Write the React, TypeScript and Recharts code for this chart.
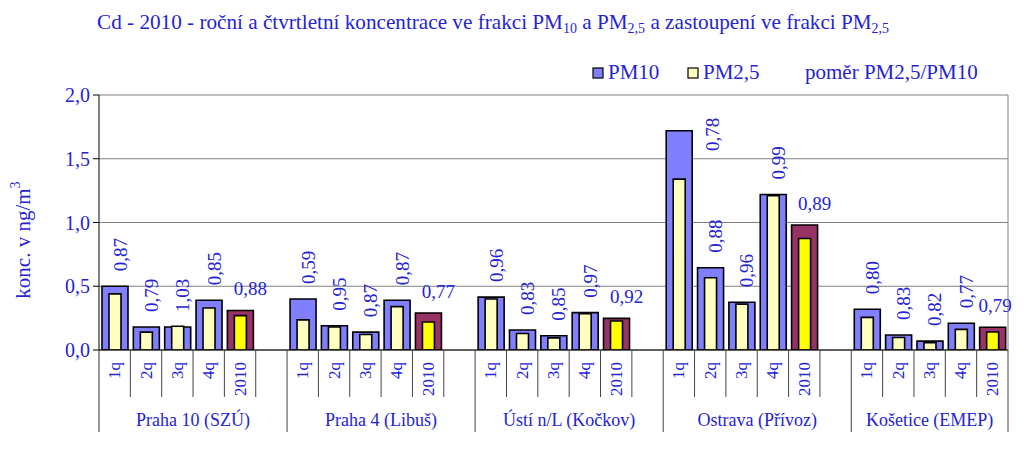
import React from 'react';
import { BarChart, Bar, XAxis, YAxis, CartesianGrid, Cell, LabelList } from 'recharts';

const stations = ['Praha 10 (SZÚ)', 'Praha 4 (Libuš)', 'Ústí n/L (Kočkov)', 'Ostrava (Přívoz)', 'Košetice (EMEP)'];
const periods = ['1q', '2q', '3q', '4q', '2010'];
const pm10 = [
  [0.5, 0.18, 0.18, 0.39, 0.31],
  [0.4, 0.19, 0.14, 0.39, 0.29],
  [0.415, 0.157, 0.112, 0.293, 0.248],
  [1.72, 0.645, 0.375, 1.22, 0.98],
  [0.32, 0.118, 0.07, 0.21, 0.178],
];
const pm25 = [
  [0.44, 0.14, 0.186, 0.33, 0.27],
  [0.236, 0.18, 0.122, 0.34, 0.22],
  [0.4, 0.13, 0.095, 0.284, 0.228],
  [1.34, 0.567, 0.36, 1.21, 0.875],
  [0.256, 0.098, 0.057, 0.162, 0.141],
];
const ratios = [
  [0.87, 0.79, 1.03, 0.85, 0.88],
  [0.59, 0.95, 0.87, 0.87, 0.77],
  [0.96, 0.83, 0.85, 0.97, 0.92],
  [0.78, 0.88, 0.96, 0.99, 0.89],
  [0.8, 0.83, 0.82, 0.77, 0.79],
];
const yTicks = [0, 0.5, 1, 1.5, 2];

type Row = {
  key: string; station: number; period: string; pm10: number | null; pm25: number | null;
  ratio: number | null; annual: boolean; blank: boolean; slots: number;
};
const rows: Row[] = [];
stations.forEach((_, s) => {
  const slots = s < stations.length - 1 ? 6 : 5;
  periods.forEach((p, i) => {
    rows.push({ key: `${s}-${i}`, station: s, period: p, pm10: pm10[s][i], pm25: pm25[s][i], ratio: ratios[s][i], annual: p === '2010', blank: false, slots });
  });
  if (s < stations.length - 1) {
    rows.push({ key: `${s}-b`, station: s, period: '', pm10: null, pm25: null, ratio: null, annual: false, blank: true, slots });
  }
});
const rowByKey: Record<string, Row> = {};
rows.forEach((r) => (rowByKey[r.key] = r));

const W = 1008;
const H = 450;
const PLOT_LEFT = 91;
const PLOT_RIGHT = 1000;
const PLOT_TOP = 87;
const PLOT_BOTTOM = 342;
const XAXIS_H = 100;
const YAXIS_W = 60;
const SLOT = (PLOT_RIGHT - PLOT_LEFT) / rows.length;

const BLUE = '#2424D4';
const FONT = '"Liberation Serif", "DejaVu Serif", serif';
const C_PM10 = '#8080FF';
const C_PM25 = '#FFFFC0';
const C_PM10_Y = '#993366';
const C_PM25_Y = '#FFFF00';

const fmt = (v: number, d: number) => v.toFixed(d).replace('.', ',');

const CatTick = (props: any) => {
  const { x, y } = props;
  const index = props.index ?? props.payload?.index ?? 0;
  const r = rows[index];
  if (!r) return null;
  const left = x - SLOT / 2;
  const right = x + SLOT / 2;
  const isEnd = r.blank || (r.station === stations.length - 1 && r.period === '2010');
  const isLast = index === rows.length - 1;
  return (
    <g>
      {index === 0 && <line x1={left} x2={left} y1={y} y2={y + 82} stroke="#333" strokeWidth={1} />}
      {isLast && <line x1={right} x2={right} y1={PLOT_TOP} y2={y} stroke="#808080" strokeWidth={1} />}
      <line x1={right} x2={right} y1={y} y2={y + (isEnd ? 82 : 47)} stroke="#444" strokeWidth={1} />
      {r.period && (
        <text
          x={x}
          y={y + 12}
          transform={`rotate(-90 ${x} ${y + 12})`}
          textAnchor="end"
          dominantBaseline="central"
          fill={BLUE}
          fontSize={17}
          fontFamily={FONT}
        >
          {r.period}
        </text>
      )}
      {r.period === '1q' && (
        <text
          x={left + (r.slots * SLOT) / 2}
          y={y + 70}
          textAnchor="middle"
          dominantBaseline="central"
          fill={BLUE}
          fontSize={18}
          fontFamily={FONT}
        >
          {stations[r.station]}
        </text>
      )}
    </g>
  );
};

const RatioLabel = (props: any) => {
  const { x, y, width, value } = props;
  const r = rowByKey[value];
  if (!r || r.ratio == null) return null;
  const cx = x + width / 2;
  const txt = fmt(r.ratio, 2);
  if (r.annual) {
    const lx = Math.min(cx + 10, PLOT_RIGHT + 4 - 17);
    return (
      <text x={lx} y={y - 15} textAnchor="middle" fill={BLUE} fontSize={19} fontFamily={FONT}>
        {txt}
      </text>
    );
  }
  let lx = cx + 5;
  let bottom = y - 15;
  if (bottom - 36 < PLOT_TOP) {
    lx = cx + SLOT + 2;
    bottom = PLOT_TOP + 22 + 34;
  }
  return (
    <text
      x={lx}
      y={bottom}
      transform={`rotate(-90 ${lx} ${bottom})`}
      textAnchor="start"
      dominantBaseline="central"
      fill={BLUE}
      fontSize={19}
      fontFamily={FONT}
    >
      {txt}
    </text>
  );
};

export default function App() {
  return (
    <div style={{ position: 'relative', width: W, height: H }}>
      <BarChart
        width={W}
        height={H}
        data={rows}
        style={{ overflow: 'visible' }}
        margin={{ top: PLOT_TOP, right: W - PLOT_RIGHT, left: PLOT_LEFT - YAXIS_W, bottom: H - PLOT_BOTTOM - XAXIS_H }}
      >
        <CartesianGrid vertical={false} stroke="#808080" strokeWidth={1} />
        <XAxis
          xAxisId="a"
          dataKey="key"
          type="category"
          interval={0}
          height={XAXIS_H}
          tickSize={0}
          tickMargin={0}
          tickLine={false}
          axisLine={{ stroke: '#000', strokeWidth: 1 }}
          tick={<CatTick />}
        />
        <XAxis xAxisId="b" dataKey="key" type="category" hide />
        <YAxis
          domain={[0, 2]}
          ticks={yTicks}
          width={YAXIS_W}
          tickFormatter={(v: number) => fmt(v, 1)}
          tick={{ fill: BLUE, fontSize: 20, fontFamily: FONT }}
          tickLine={{ stroke: '#000' }}
          tickSize={6}
          tickMargin={3}
          axisLine={{ stroke: '#000', strokeWidth: 1 }}
          allowDataOverflow
        />
        <Bar xAxisId="a" dataKey="pm10" barSize={26} stroke="#000" strokeWidth={1.6} isAnimationActive={false}>
          {rows.map((r) => (
            <Cell key={r.key} fill={r.annual ? C_PM10_Y : C_PM10} />
          ))}
          <LabelList dataKey="key" content={<RatioLabel />} />
        </Bar>
        <Bar xAxisId="b" dataKey="pm25" barSize={12} stroke="#000" strokeWidth={1.6} isAnimationActive={false}>
          {rows.map((r) => (
            <Cell key={r.key} fill={r.annual ? C_PM25_Y : C_PM25} />
          ))}
        </Bar>
      </BarChart>
      <svg
        width={W}
        height={H}
        style={{ position: 'absolute', left: 0, top: 0, pointerEvents: 'none', overflow: 'visible' }}
      >
        <text x={89} y={21} fill={BLUE} fontSize={21.2} fontFamily={FONT}>
          Cd - 2010 - roční a čtvrtletní koncentrace ve frakci PM
          <tspan fontSize={14} dy={4}>10</tspan>
          <tspan dy={-4}> a PM</tspan>
          <tspan fontSize={14} dy={4}>2,5</tspan>
          <tspan dy={-4}> a zastoupení ve frakci PM</tspan>
          <tspan fontSize={14} dy={4}>2,5</tspan>
        </text>
        <rect x={585} y={60} width={10} height={10} fill={C_PM10} stroke="#000" strokeWidth={1.2} />
        <text x={600} y={71} fill={BLUE} fontSize={21} fontFamily={FONT}>PM10</text>
        <rect x={680} y={60} width={10} height={10} fill={C_PM25} stroke="#000" strokeWidth={1.2} />
        <text x={695} y={71} fill={BLUE} fontSize={21} fontFamily={FONT}>PM2,5</text>
        <text x={797} y={71} fill={BLUE} fontSize={21} fontFamily={FONT}>poměr PM2,5/PM10</text>
        <text
          x={15}
          y={232}
          transform="rotate(-90 15 232)"
          textAnchor="middle"
          dominantBaseline="central"
          fill={BLUE}
          fontSize={21}
          fontFamily={FONT}
        >
          konc. v ng/m<tspan fontSize={14} dy={-8}>3</tspan>
        </text>
      </svg>
    </div>
  );
}
